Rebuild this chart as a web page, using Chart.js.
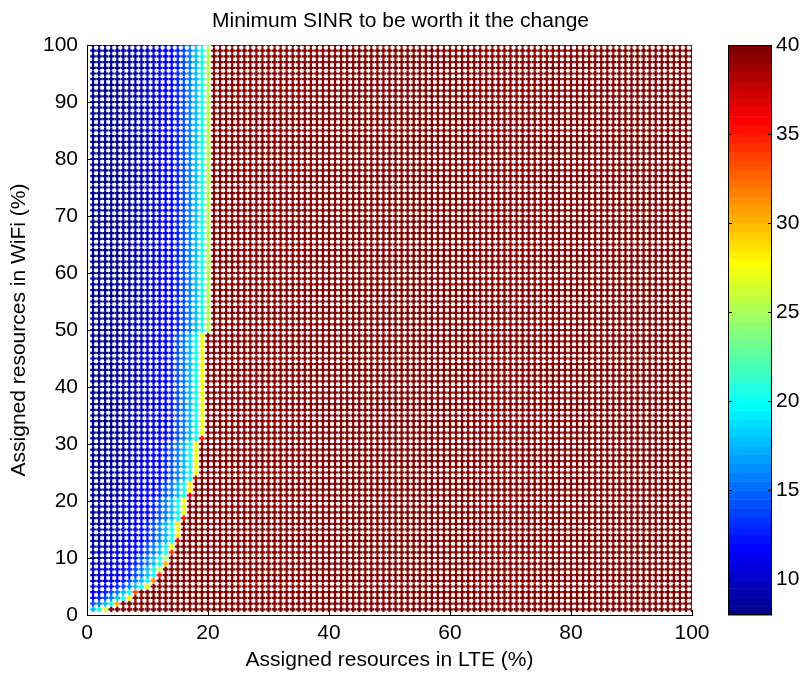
<!DOCTYPE html>
<html>
<head>
<meta charset="utf-8">
<title>Minimum SINR to be worth it the change</title>
<script src="https://cdn.jsdelivr.net/npm/chart.js@4.4.0/dist/chart.umd.min.js"></script>
<style>
    html, body { margin: 0; padding: 0; background: #fff; }
    #wrap { width: 801px; height: 675px; }
</style>
</head>
<body>
<div id="wrap"><canvas id="sinrChart" width="801" height="675"></canvas></div>
<script>
const chartTitle = 'Minimum SINR to be worth it the change';
const xTitle = 'Assigned resources in LTE (%)';
const yTitle = 'Assigned resources in WiFi (%)';

// tick labels
const xTicks = [0, 20, 40, 60, 80, 100];
const yTicks = [0, 10, 20, 30, 40, 50, 60, 70, 80, 90, 100];
const colorTicks = [10, 15, 20, 25, 30, 35, 40];
const colorMin = 8;
const colorMax = 40;

// sample grid: LTE % and WiFi % both 1..100
const gridCount = 100;

// SINR (dB) of a marker by how many LTE steps it sits left of the first saturated
// marker of its row (gap 2, 3, ... 20), read along the top rows
const sinrByGap = [
    20, 17.8, 15.8, 14.2, 12.9, 11.9, 11.1, 10.5, 10.0, 9.6,
    9.3, 9.0, 8.8, 8.6, 8.45, 8.3, 8.2, 8.1, 8.05
];

// [WiFi % up to, first saturated LTE %, SINR of the marker just before it]
const edgeRuns = [
    [1, 4, 26], [2, 6, 30], [3, 8, 28], [4, 9, 33], [5, 11, 27],
    [6, 12, 31], [7, 13, 35], [8, 13, 26], [9, 14, 30], [10, 14, 25],
    [11, 15, 34], [12, 15, 27], [13, 16, 36], [16, 16, 28], [17, 17, 35],
    [20, 17, 27], [21, 18, 36], [23, 18, 28], [24, 19, 37], [30, 19, 27],
    [31, 20, 35], [49, 20, 27], [100, 21, 25]
];
const saturatedSinr = 40;

const fontFamily = '"Liberation Sans", Arial, Helvetica, sans-serif';
const fontSize = 21;

// matlab jet(64)
function jetRgb(k) {
    const u = i => (i < 1 || i > 47) ? 0 : (i <= 16 ? i / 16 : (i <= 31 ? 1 : (48 - i) / 16));
    const r = u(k - 24), g = u(k - 8), b = u(k + 8);
    return `rgb(${Math.round(r * 255)},${Math.round(g * 255)},${Math.round(b * 255)})`;
}
function colorFor(v) {
    let k = Math.floor((v - colorMin) / (colorMax - colorMin) * 64) + 1;
    k = Math.max(1, Math.min(64, k));
    return jetRgb(k);
}

const points = [];
const colors = [];
for (let wifi = 1; wifi <= gridCount; wifi++) {
    const run = edgeRuns.find(r => wifi <= r[0]);
    for (let lte = 1; lte <= gridCount; lte++) {
        const gap = run[1] - lte;
        let sinr;
        if (gap <= 0) sinr = saturatedSinr;
        else if (gap === 1) sinr = run[2];
        else sinr = sinrByGap[gap - 2];
        points.push({ x: lte, y: wifi });
        colors.push(colorFor(sinr));
    }
}

// keep tick labels from pushing the plot area around
function noScalePadding(s) {
    s.paddingTop = 0;
    s.paddingBottom = 0;
    s.paddingLeft = 0;
    s.paddingRight = 0;
}

// inward ticks on the axes and the colour bar
const axesDecor = {
    id: 'axesDecor',
    afterDraw(chart) {
        const ctx = chart.ctx;
        const xs = chart.scales.x, ys = chart.scales.y, cb = chart.scales.cbar;
        const area = chart.chartArea;
        ctx.save();
        ctx.strokeStyle = '#000';
        ctx.lineWidth = 1;
        ctx.beginPath();
        xTicks.forEach(v => {
            const px = Math.round(xs.getPixelForValue(v)) + 0.5;
            ctx.moveTo(px, area.bottom);
            ctx.lineTo(px, area.bottom - 5);
        });
        yTicks.forEach(v => {
            const py = Math.round(ys.getPixelForValue(v)) + 0.5;
            ctx.moveTo(area.left, py);
            ctx.lineTo(area.left + 5, py);
        });
        ctx.stroke();

        // colour bar
        const left = cb.left + 36, right = cb.left + 80;
        for (let k = 1; k <= 64; k++) {
            const v0 = colorMin + (k - 1) * (colorMax - colorMin) / 64;
            const v1 = colorMin + k * (colorMax - colorMin) / 64;
            const top = cb.getPixelForValue(v1), bot = cb.getPixelForValue(v0);
            ctx.fillStyle = jetRgb(k);
            ctx.fillRect(left, top, right - left, bot - top + 0.5);
        }
        ctx.strokeStyle = '#000';
        ctx.strokeRect(left + 0.5, cb.top + 0.5, right - left - 1, cb.bottom - cb.top - 1);
        ctx.beginPath();
        colorTicks.forEach(v => {
            const py = Math.round(cb.getPixelForValue(v)) + 0.5;
            ctx.moveTo(left, py);
            ctx.lineTo(left + 4, py);
            ctx.moveTo(right, py);
            ctx.lineTo(right - 4, py);
        });
        ctx.stroke();
        ctx.restore();
    }
};

const ctx = document.getElementById('sinrChart').getContext('2d');
new Chart(ctx, {
    type: 'scatter',
    data: {
        datasets: [{
            data: points,
            pointStyle: 'cross',
            pointRadius: 2.8,
            pointBorderWidth: 2.2,
            pointBorderColor: colors,
            pointBackgroundColor: colors
        }]
    },
    options: {
        responsive: false,
        animation: false,
        events: [],
        layout: { autoPadding: false, padding: 0 },
        plugins: {
            legend: { display: false },
            tooltip: { enabled: false },
            title: {
                display: true,
                text: chartTitle,
                color: '#000',
                font: { family: fontFamily, size: fontSize, weight: 'normal', lineHeight: 1.2 },
                padding: { top: 9, bottom: 10.8 }
            }
        },
        scales: {
            x: {
                type: 'linear',
                min: 0,
                max: 100,
                afterBuildTicks: s => { s.ticks = xTicks.map(v => ({ value: v })); },
                afterFit: s => { s.height = 60; noScalePadding(s); },
                grid: { drawOnChartArea: false, drawTicks: false },
                border: { display: true, color: '#000', width: 1 },
                ticks: { color: '#000', padding: 6, font: { family: fontFamily, size: fontSize } },
                title: {
                    display: true,
                    text: xTitle,
                    color: '#000',
                    font: { family: fontFamily, size: fontSize },
                    padding: { top: 0, bottom: 2 }
                }
            },
            y: {
                type: 'linear',
                min: 0,
                max: 100,
                afterBuildTicks: s => { s.ticks = yTicks.map(v => ({ value: v })); },
                afterFit: s => { s.width = 87; noScalePadding(s); },
                grid: { drawOnChartArea: false, drawTicks: false },
                border: { display: true, color: '#000', width: 1 },
                ticks: { color: '#000', padding: 9, font: { family: fontFamily, size: fontSize } },
                title: {
                    display: true,
                    text: yTitle,
                    color: '#000',
                    font: { family: fontFamily, size: fontSize },
                    padding: { top: 7, bottom: 0 }
                }
            },
            cbar: {
                type: 'linear',
                position: 'right',
                min: colorMin,
                max: colorMax,
                afterBuildTicks: s => { s.ticks = colorTicks.map(v => ({ value: v })); },
                afterFit: s => { s.width = 109; noScalePadding(s); },
                grid: { drawOnChartArea: false, drawTicks: false },
                border: { display: false },
                ticks: { color: '#000', padding: 84, font: { family: fontFamily, size: fontSize } }
            }
        }
    },
    plugins: [axesDecor]
});
</script>
</body>
</html>
